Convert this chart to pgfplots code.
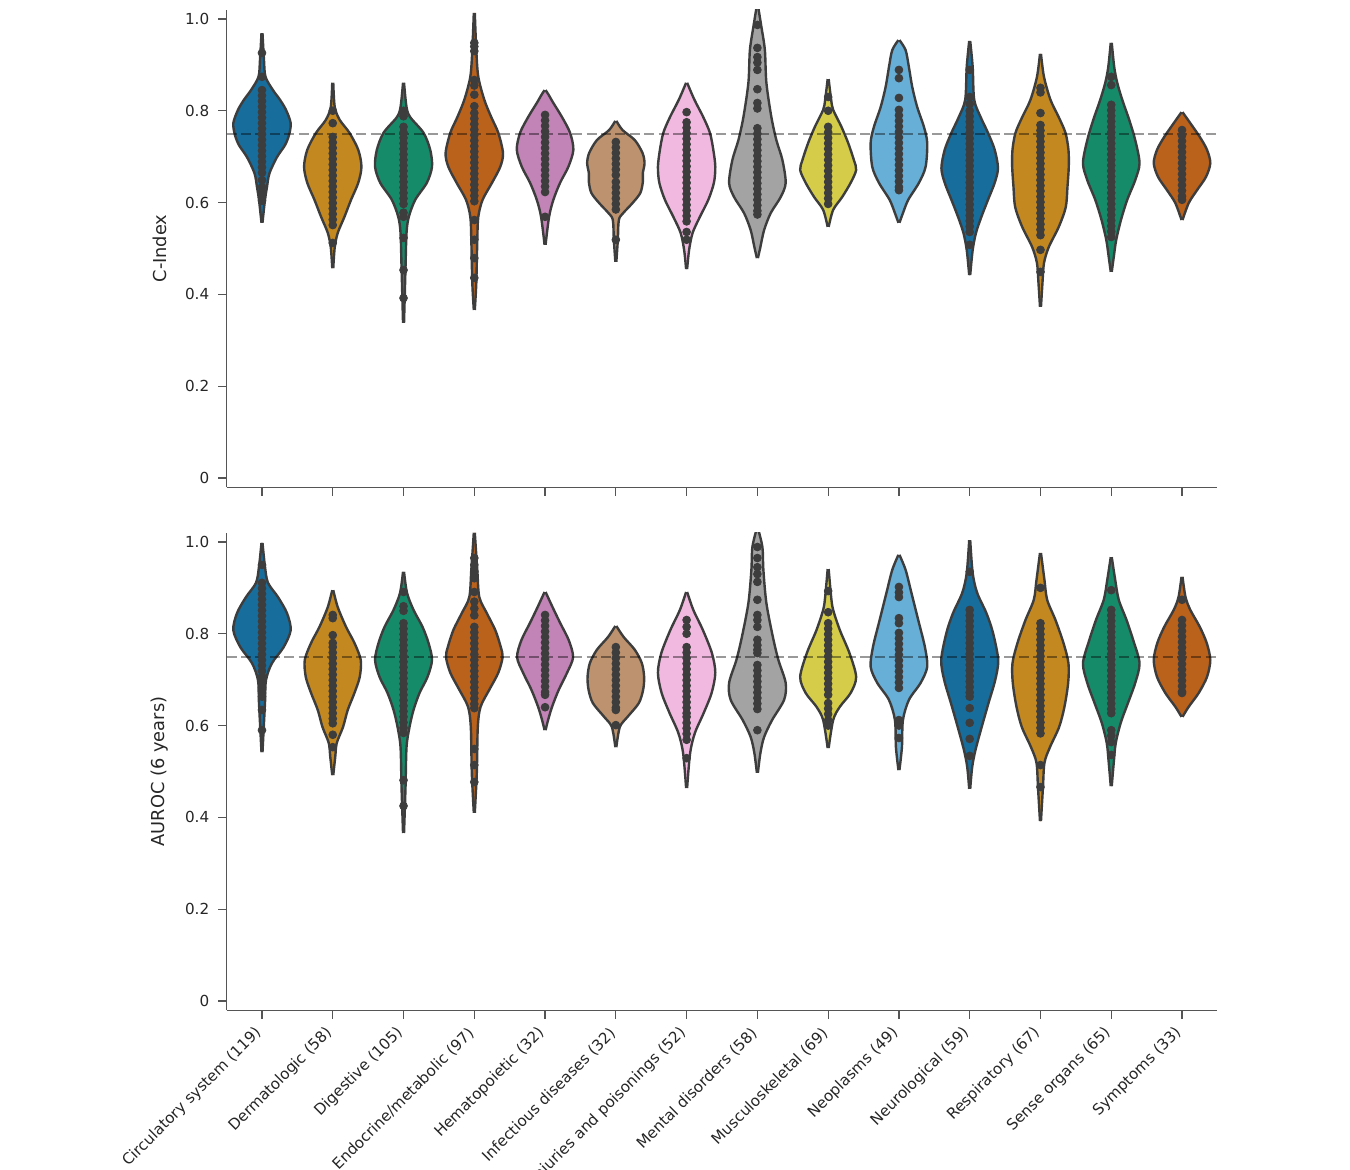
\documentclass[border=0pt]{standalone}
\usepackage{fontspec}
\setmainfont{DejaVu Sans}
\usepackage{pgfplots}
\pgfplotsset{compat=1.18}
\usepgfplotslibrary{fillbetween}

\definecolor{cA}{HTML}{176D9C}
\definecolor{cB}{HTML}{C38820}
\definecolor{cC}{HTML}{168B6A}
\definecolor{cD}{HTML}{BA611B}
\definecolor{cE}{HTML}{C283B6}
\definecolor{cF}{HTML}{BD926E}
\definecolor{cG}{HTML}{F2B9E0}
\definecolor{cH}{HTML}{A3A3A3}
\definecolor{cI}{HTML}{D5CD4A}
\definecolor{cJ}{HTML}{68AFD7}
\definecolor{vedge}{HTML}{3D3D3D}
\definecolor{axc}{HTML}{555555}
\definecolor{txt}{HTML}{262626}

% half-widths w are in pixels of the reference (one category = 70.8 px)
\newcommand\violin[4]{%
  \addplot[draw=vedge, line width=1.2pt, smooth, name path=R#3] table[row sep=\\, x expr={#1+\thisrow{w}/70.8}, y=y]{#4};
  \addplot[draw=vedge, line width=1.2pt, smooth, name path=L#3] table[row sep=\\, x expr={#1-\thisrow{w}/70.8}, y=y]{#4};
  \addplot[fill=#2, draw=none] fill between[of=R#3 and L#3, reverse=true];
}

\pgfplotsset{vio/.style={
  scale only axis, width=495.4pt, height=238.7pt,
  xmin=-0.5, xmax=13.5, ymin=-0.02, ymax=1.02,
  axis x line*=bottom, axis y line*=left,
  axis line style={draw=axc, line width=0.6pt, -},
  xtick={0,...,13}, ytick={0,0.2,0.4,0.6,0.8,1.0},
  yticklabels={0,0.2,0.4,0.6,0.8,1.0},
  tick align=outside, major tick length=4.2pt,
  tick style={draw=axc, line width=0.6pt},
  tick label style={font=\fontsize{7.6}{9}\selectfont, text=txt},
  yticklabel style={inner sep=0pt, xshift=-4.3pt},
  label style={font=\fontsize{8.9}{10.5}\selectfont, text=txt},
  ylabel style={at={(axis description cs:-0.0677,0.5)}, anchor=center},
  set layers,
}}

\begin{document}
\begin{tikzpicture}

% ---------------- top panel: C-Index ----------------
\begin{axis}[vio, at={(113.3pt,341.4pt)}, anchor=south west, ylabel={C-Index}, xticklabels={}]
\violin{0}{cA}{a0}{y w \\ 0.556 0.5 \\ 0.606 3 \\ 0.634 5 \\ 0.664 7.5 \\ 0.699 15 \\ 0.725 23 \\ 0.747 27 \\ 0.773 28.7 \\ 0.802 24 \\ 0.824 18 \\ 0.845 11 \\ 0.874 3.5 \\ 0.911 2 \\ 0.969 0.5 \\}
\violin{1}{cB}{a1}{y w \\ 0.457 0.5 \\ 0.503 2 \\ 0.534 5 \\ 0.569 11.7 \\ 0.606 18.3 \\ 0.643 25.5 \\ 0.678 28.7 \\ 0.715 25.5 \\ 0.752 16.7 \\ 0.780 7 \\ 0.808 2 \\ 0.861 0.5 \\}
\violin{2}{cC}{a2}{y w \\ 0.338 0.5 \\ 0.460 2 \\ 0.534 3 \\ 0.569 5.3 \\ 0.606 11.7 \\ 0.643 23.3 \\ 0.678 28.5 \\ 0.715 26.7 \\ 0.752 20 \\ 0.786 6.7 \\ 0.808 3 \\ 0.861 0.5 \\}
\violin{3}{cD}{a3}{y w \\ 0.366 0.5 \\ 0.425 2 \\ 0.519 3 \\ 0.569 4 \\ 0.606 8.3 \\ 0.643 17.7 \\ 0.678 26 \\ 0.708 28.7 \\ 0.752 24 \\ 0.786 17 \\ 0.824 10 \\ 0.874 4 \\ 0.932 2 \\ 1.013 0.5 \\}
\violin{4}{cE}{a4}{y w \\ 0.508 0.5 \\ 0.569 4 \\ 0.606 8.3 \\ 0.643 15 \\ 0.678 23.3 \\ 0.715 28.3 \\ 0.752 25 \\ 0.786 17 \\ 0.818 8 \\ 0.835 3.5 \\ 0.845 0.5 \\}
\violin{5}{cF}{a5}{y w \\ 0.471 0.5 \\ 0.519 2 \\ 0.562 3 \\ 0.577 7.3 \\ 0.599 16.7 \\ 0.621 24.5 \\ 0.645 27 \\ 0.664 27 \\ 0.686 28.7 \\ 0.708 26.7 \\ 0.736 19 \\ 0.758 6.7 \\ 0.778 0.5 \\}
\violin{6}{cG}{a6}{y w \\ 0.455 0.5 \\ 0.497 2.5 \\ 0.534 6 \\ 0.569 13.3 \\ 0.606 21.7 \\ 0.643 27.3 \\ 0.678 28.7 \\ 0.715 26.7 \\ 0.752 23.3 \\ 0.786 16.7 \\ 0.824 7.8 \\ 0.861 0.5 \\}
\violin{7}{cH}{a7}{y w \\ 0.479 0.5 \\ 0.503 3 \\ 0.540 6.7 \\ 0.577 13.3 \\ 0.612 23.3 \\ 0.643 28.3 \\ 0.693 25 \\ 0.736 19 \\ 0.786 14 \\ 0.861 9 \\ 0.932 7.5 \\ 0.983 4 \\ 1.03 0.5 \\}
\violin{8}{cI}{a8}{y w \\ 0.547 0.5 \\ 0.584 5 \\ 0.612 14 \\ 0.643 22.5 \\ 0.671 28 \\ 0.693 25.7 \\ 0.730 20 \\ 0.765 13.3 \\ 0.802 5 \\ 0.824 3 \\ 0.869 0.5 \\}
\violin{9}{cJ}{a9}{y w \\ 0.556 0.5 \\ 0.577 4 \\ 0.606 9.3 \\ 0.643 20 \\ 0.678 26.7 \\ 0.730 28.3 \\ 0.765 25 \\ 0.808 18.3 \\ 0.852 13.3 \\ 0.895 10 \\ 0.932 6.7 \\ 0.954 0.5 \\}
\violin{10}{cA}{a10}{y w \\ 0.442 0.5 \\ 0.497 3 \\ 0.534 6.3 \\ 0.569 11.7 \\ 0.606 18.3 \\ 0.643 25 \\ 0.675 28.3 \\ 0.715 25 \\ 0.752 18.3 \\ 0.786 11 \\ 0.824 4.5 \\ 0.895 3 \\ 0.952 0.5 \\}
\violin{11}{cB}{a11}{y w \\ 0.373 0.5 \\ 0.425 2 \\ 0.468 3.5 \\ 0.503 8.3 \\ 0.547 18.3 \\ 0.590 25.3 \\ 0.634 27 \\ 0.678 28.3 \\ 0.715 28 \\ 0.752 25 \\ 0.786 18.3 \\ 0.824 10 \\ 0.874 3.5 \\ 0.924 0.5 \\}
\violin{12}{cC}{a12}{y w \\ 0.449 0.5 \\ 0.481 2.5 \\ 0.519 5 \\ 0.562 9.7 \\ 0.606 16 \\ 0.649 24 \\ 0.686 28.3 \\ 0.736 24 \\ 0.780 18 \\ 0.824 11 \\ 0.861 6 \\ 0.895 3 \\ 0.948 0.5 \\}
\violin{13}{cD}{a13}{y w \\ 0.562 0.5 \\ 0.599 6.7 \\ 0.627 15 \\ 0.656 24 \\ 0.686 28.3 \\ 0.715 25 \\ 0.743 17.8 \\ 0.773 8.3 \\ 0.797 0.5 \\}

\addplot[only marks, mark=*, mark size=1.95pt, color=vedge] coordinates {
(0,0.926)(0,0.874)(0,0.845)(0,0.833)(0,0.821)(0,0.809)(0,0.797)(0,0.785)(0,0.773)(0,0.761)(0,0.749)(0,0.737)(0,0.725)(0,0.713)(0,0.701)(0,0.689)(0,0.677)(0,0.665)(0,0.649)(0,0.634)(0,0.621)(0,0.612)(0,0.604)
(1,0.800)(1,0.773)(1,0.743)(1,0.731)(1,0.719)(1,0.707)(1,0.695)(1,0.683)(1,0.671)(1,0.659)(1,0.647)(1,0.635)(1,0.623)(1,0.611)(1,0.599)(1,0.587)(1,0.575)(1,0.563)(1,0.551)(1,0.512)
(2,0.800)(2,0.788)(2,0.765)(2,0.753)(2,0.741)(2,0.729)(2,0.717)(2,0.705)(2,0.693)(2,0.681)(2,0.669)(2,0.657)(2,0.645)(2,0.633)(2,0.621)(2,0.609)(2,0.597)(2,0.578)(2,0.569)(2,0.523)(2,0.453)(2,0.392)
(3,0.948)(3,0.940)(3,0.930)(3,0.867)(3,0.855)(3,0.835)(3,0.810)(3,0.795)(3,0.783)(3,0.771)(3,0.759)(3,0.747)(3,0.735)(3,0.723)(3,0.711)(3,0.699)(3,0.687)(3,0.675)(3,0.663)(3,0.651)(3,0.639)(3,0.627)(3,0.615)(3,0.603)(3,0.562)(3,0.519)(3,0.479)(3,0.436)
(4,0.791)(4,0.779)(4,0.767)(4,0.755)(4,0.743)(4,0.731)(4,0.719)(4,0.707)(4,0.695)(4,0.683)(4,0.671)(4,0.659)(4,0.647)(4,0.635)(4,0.623)(4,0.569)
(5,0.732)(5,0.720)(5,0.708)(5,0.696)(5,0.684)(5,0.672)(5,0.660)(5,0.645)(5,0.633)(5,0.621)(5,0.609)(5,0.597)(5,0.585)(5,0.519)
(6,0.797)(6,0.775)(6,0.763)(6,0.751)(6,0.739)(6,0.727)(6,0.715)(6,0.703)(6,0.691)(6,0.679)(6,0.667)(6,0.655)(6,0.643)(6,0.631)(6,0.619)(6,0.607)(6,0.595)(6,0.583)(6,0.571)(6,0.559)(6,0.536)(6,0.519)
(7,0.987)(7,0.937)(7,0.917)(7,0.905)(7,0.889)(7,0.847)(7,0.817)(7,0.805)(7,0.762)(7,0.750)(7,0.738)(7,0.726)(7,0.714)(7,0.702)(7,0.690)(7,0.678)(7,0.666)(7,0.654)(7,0.642)(7,0.630)(7,0.618)(7,0.606)(7,0.594)(7,0.582)(7,0.574)
(8,0.830)(8,0.800)(8,0.765)(8,0.753)(8,0.741)(8,0.729)(8,0.717)(8,0.705)(8,0.693)(8,0.681)(8,0.669)(8,0.657)(8,0.645)(8,0.633)(8,0.621)(8,0.609)(8,0.597)
(9,0.889)(9,0.871)(9,0.828)(9,0.802)(9,0.790)(9,0.778)(9,0.766)(9,0.754)(9,0.742)(9,0.730)(9,0.718)(9,0.706)(9,0.694)(9,0.682)(9,0.670)(9,0.658)(9,0.646)(9,0.634)(9,0.627)
(10,0.889)(10,0.830)(10,0.815)(10,0.800)(10,0.788)(10,0.776)(10,0.764)(10,0.752)(10,0.740)(10,0.728)(10,0.716)(10,0.704)(10,0.692)(10,0.680)(10,0.668)(10,0.656)(10,0.644)(10,0.632)(10,0.620)(10,0.608)(10,0.596)(10,0.584)(10,0.572)(10,0.560)(10,0.548)(10,0.536)(10,0.508)
(11,0.850)(11,0.840)(11,0.795)(11,0.769)(11,0.757)(11,0.745)(11,0.733)(11,0.721)(11,0.709)(11,0.697)(11,0.685)(11,0.673)(11,0.661)(11,0.649)(11,0.637)(11,0.625)(11,0.613)(11,0.601)(11,0.589)(11,0.577)(11,0.565)(11,0.553)(11,0.541)(11,0.529)(11,0.497)(11,0.449)
(12,0.874)(12,0.856)(12,0.813)(12,0.801)(12,0.789)(12,0.777)(12,0.765)(12,0.753)(12,0.741)(12,0.729)(12,0.717)(12,0.705)(12,0.693)(12,0.681)(12,0.669)(12,0.657)(12,0.645)(12,0.633)(12,0.621)(12,0.609)(12,0.597)(12,0.585)(12,0.573)(12,0.561)(12,0.549)(12,0.537)(12,0.525)
(13,0.758)(13,0.746)(13,0.734)(13,0.722)(13,0.710)(13,0.698)(13,0.686)(13,0.674)(13,0.662)(13,0.650)(13,0.638)(13,0.626)(13,0.614)(13,0.606)
};
\addplot[black, opacity=0.4, line width=1pt, dash pattern=on 5pt off 2.2pt] coordinates {(-0.5,0.75) (13.5,0.75)};
\end{axis}

% ---------------- bottom panel: AUROC ----------------
\begin{axis}[vio, at={(113.3pt,79.9pt)}, anchor=south west, ylabel={AUROC (6 years)},
  xticklabels={Circulatory system (119),Dermatologic (58),Digestive (105),Endocrine/metabolic (97),Hematopoietic (32),Infectious diseases (32),Injuries and poisonings (52),Mental disorders (58),Musculoskeletal (69),Neoplasms (49),Neurological (59),Respiratory (67),Sense organs (65),Symptoms (33)},
  xticklabel style={xshift=1.2pt, yshift=-8.7pt, rotate=45, anchor=south east, inner sep=0pt}]
\violin{0}{cA}{b0}{y w \\ 0.542 0.5 \\ 0.649 3 \\ 0.699 4 \\ 0.736 10 \\ 0.771 21.7 \\ 0.808 28.7 \\ 0.845 25 \\ 0.880 16 \\ 0.911 6 \\ 0.946 3 \\ 0.998 0.5 \\}
\violin{1}{cB}{b1}{y w \\ 0.492 0.5 \\ 0.532 2.5 \\ 0.562 4 \\ 0.597 10.3 \\ 0.634 15 \\ 0.671 21.7 \\ 0.706 27 \\ 0.743 28 \\ 0.780 21.7 \\ 0.815 13.3 \\ 0.858 5 \\ 0.895 0.5 \\}
\violin{2}{cC}{b2}{y w \\ 0.366 0.5 \\ 0.466 2 \\ 0.553 3 \\ 0.597 6 \\ 0.634 10 \\ 0.671 16 \\ 0.706 24 \\ 0.743 28.5 \\ 0.780 25 \\ 0.815 19 \\ 0.852 10 \\ 0.889 3.5 \\ 0.935 0.5 \\}
\violin{3}{cD}{b3}{y w \\ 0.410 0.5 \\ 0.497 2.5 \\ 0.597 3.5 \\ 0.641 6.3 \\ 0.678 15 \\ 0.715 24 \\ 0.749 28.3 \\ 0.771 26.5 \\ 0.808 21 \\ 0.845 12.5 \\ 0.880 5 \\ 0.939 3 \\ 1.02 0.5 \\}
\violin{4}{cE}{b4}{y w \\ 0.590 0.5 \\ 0.612 3 \\ 0.641 7 \\ 0.678 13.7 \\ 0.715 22 \\ 0.749 28 \\ 0.786 23.7 \\ 0.824 15 \\ 0.858 7.5 \\ 0.891 0.5 \\}
\violin{5}{cF}{b5}{y w \\ 0.553 0.5 \\ 0.597 4 \\ 0.619 11.7 \\ 0.649 23 \\ 0.678 27.3 \\ 0.706 28.3 \\ 0.736 26 \\ 0.765 19 \\ 0.793 7.8 \\ 0.817 0.5 \\}
\violin{6}{cG}{b6}{y w \\ 0.464 0.5 \\ 0.540 3.5 \\ 0.584 8.3 \\ 0.627 17 \\ 0.671 25 \\ 0.715 28.7 \\ 0.758 25.3 \\ 0.808 16.3 \\ 0.852 6.7 \\ 0.891 0.5 \\}
\violin{7}{cH}{b7}{y w \\ 0.497 0.5 \\ 0.540 3 \\ 0.575 6.7 \\ 0.612 14.7 \\ 0.656 26.7 \\ 0.693 28.3 \\ 0.743 21 \\ 0.793 15.5 \\ 0.867 9 \\ 0.939 6 \\ 0.989 5 \\ 1.03 0.5 \\}
\violin{8}{cI}{b8}{y w \\ 0.551 0.5 \\ 0.612 5 \\ 0.641 11.7 \\ 0.671 22.5 \\ 0.706 28 \\ 0.758 21.3 \\ 0.808 11.7 \\ 0.852 5 \\ 0.880 3 \\ 0.941 0.5 \\}
\violin{9}{cJ}{b9}{y w \\ 0.503 0.5 \\ 0.553 3 \\ 0.612 4 \\ 0.656 10 \\ 0.693 21.7 \\ 0.728 28.3 \\ 0.771 26 \\ 0.830 19.3 \\ 0.889 12.5 \\ 0.939 6.7 \\ 0.972 0.5 \\}
\violin{10}{cA}{b10}{y w \\ 0.462 0.5 \\ 0.510 2.5 \\ 0.547 5.8 \\ 0.597 12 \\ 0.649 18.8 \\ 0.699 25.5 \\ 0.743 28.5 \\ 0.802 23.3 \\ 0.845 16.7 \\ 0.889 7.5 \\ 0.932 3 \\ 1.004 0.5 \\}
\violin{11}{cB}{b11}{y w \\ 0.392 0.5 \\ 0.466 2.5 \\ 0.519 4 \\ 0.553 9.5 \\ 0.597 18.7 \\ 0.641 24 \\ 0.693 27.7 \\ 0.736 28 \\ 0.780 23 \\ 0.830 15 \\ 0.874 6.7 \\ 0.917 4 \\ 0.976 0.5 \\}
\violin{12}{cC}{b12}{y w \\ 0.468 0.5 \\ 0.519 2.5 \\ 0.562 4.5 \\ 0.606 9.5 \\ 0.649 16.7 \\ 0.693 24 \\ 0.736 28.3 \\ 0.786 22 \\ 0.830 15.3 \\ 0.874 7.5 \\ 0.917 4 \\ 0.967 0.5 \\}
\violin{13}{cD}{b13}{y w \\ 0.619 0.5 \\ 0.641 6.7 \\ 0.671 16.7 \\ 0.706 25 \\ 0.743 28.3 \\ 0.780 24.7 \\ 0.815 17.8 \\ 0.852 8.3 \\ 0.880 3.5 \\ 0.924 0.5 \\}

\addplot[only marks, mark=*, mark size=1.95pt, color=vedge] coordinates {
(0,0.950)(0,0.911)(0,0.899)(0,0.887)(0,0.875)(0,0.863)(0,0.851)(0,0.839)(0,0.827)(0,0.815)(0,0.803)(0,0.791)(0,0.779)(0,0.767)(0,0.755)(0,0.743)(0,0.731)(0,0.719)(0,0.707)(0,0.695)(0,0.683)(0,0.671)(0,0.663)(0,0.634)(0,0.590)
(1,0.841)(1,0.834)(1,0.797)(1,0.780)(1,0.771)(1,0.759)(1,0.747)(1,0.735)(1,0.723)(1,0.711)(1,0.699)(1,0.687)(1,0.675)(1,0.663)(1,0.651)(1,0.639)(1,0.627)(1,0.615)(1,0.605)(1,0.580)(1,0.553)
(2,0.891)(2,0.860)(2,0.850)(2,0.823)(2,0.811)(2,0.799)(2,0.787)(2,0.775)(2,0.763)(2,0.751)(2,0.739)(2,0.727)(2,0.715)(2,0.703)(2,0.691)(2,0.679)(2,0.667)(2,0.655)(2,0.643)(2,0.631)(2,0.619)(2,0.607)(2,0.595)(2,0.584)(2,0.481)(2,0.425)
(3,0.965)(3,0.950)(3,0.935)(3,0.921)(3,0.891)(3,0.870)(3,0.855)(3,0.840)(3,0.815)(3,0.803)(3,0.791)(3,0.779)(3,0.767)(3,0.755)(3,0.743)(3,0.731)(3,0.719)(3,0.707)(3,0.695)(3,0.683)(3,0.671)(3,0.659)(3,0.647)(3,0.638)(3,0.549)(3,0.514)(3,0.477)
(4,0.841)(4,0.829)(4,0.817)(4,0.805)(4,0.793)(4,0.781)(4,0.769)(4,0.757)(4,0.745)(4,0.733)(4,0.721)(4,0.709)(4,0.697)(4,0.685)(4,0.673)(4,0.667)(4,0.640)
(5,0.771)(5,0.759)(5,0.747)(5,0.735)(5,0.723)(5,0.711)(5,0.699)(5,0.687)(5,0.675)(5,0.663)(5,0.651)(5,0.639)(5,0.634)(5,0.601)
(6,0.830)(6,0.815)(6,0.800)(6,0.771)(6,0.759)(6,0.747)(6,0.735)(6,0.723)(6,0.711)(6,0.699)(6,0.687)(6,0.675)(6,0.663)(6,0.651)(6,0.639)(6,0.627)(6,0.619)(6,0.606)(6,0.594)(6,0.582)(6,0.569)(6,0.529)
(7,0.989)(7,0.965)(7,0.945)(7,0.930)(7,0.913)(7,0.874)(7,0.841)(7,0.830)(7,0.815)(7,0.787)(7,0.775)(7,0.765)(7,0.758)(7,0.732)(7,0.720)(7,0.708)(7,0.696)(7,0.684)(7,0.672)(7,0.660)(7,0.648)(7,0.636)(7,0.590)
(8,0.893)(8,0.847)(8,0.823)(8,0.811)(8,0.799)(8,0.787)(8,0.775)(8,0.763)(8,0.751)(8,0.739)(8,0.727)(8,0.715)(8,0.703)(8,0.691)(8,0.679)(8,0.667)(8,0.649)(8,0.637)(8,0.625)(8,0.612)(8,0.600)
(9,0.902)(9,0.890)(9,0.880)(9,0.834)(9,0.823)(9,0.802)(9,0.790)(9,0.778)(9,0.766)(9,0.754)(9,0.742)(9,0.730)(9,0.718)(9,0.706)(9,0.694)(9,0.682)(9,0.612)(9,0.600)(9,0.573)
(10,0.935)(10,0.852)(10,0.840)(10,0.828)(10,0.816)(10,0.804)(10,0.792)(10,0.780)(10,0.768)(10,0.756)(10,0.744)(10,0.732)(10,0.720)(10,0.708)(10,0.696)(10,0.684)(10,0.672)(10,0.663)(10,0.638)(10,0.606)(10,0.571)(10,0.534)
(11,0.900)(11,0.823)(11,0.811)(11,0.799)(11,0.787)(11,0.775)(11,0.763)(11,0.751)(11,0.739)(11,0.727)(11,0.715)(11,0.703)(11,0.691)(11,0.679)(11,0.667)(11,0.655)(11,0.643)(11,0.631)(11,0.619)(11,0.607)(11,0.595)(11,0.583)(11,0.514)(11,0.466)
(12,0.895)(12,0.852)(12,0.840)(12,0.828)(12,0.816)(12,0.804)(12,0.792)(12,0.780)(12,0.768)(12,0.756)(12,0.744)(12,0.732)(12,0.720)(12,0.708)(12,0.696)(12,0.684)(12,0.672)(12,0.660)(12,0.648)(12,0.636)(12,0.627)(12,0.590)(12,0.578)(12,0.564)(12,0.536)
(13,0.874)(13,0.830)(13,0.818)(13,0.806)(13,0.794)(13,0.782)(13,0.770)(13,0.758)(13,0.746)(13,0.734)(13,0.722)(13,0.710)(13,0.698)(13,0.686)(13,0.674)(13,0.671)
};
\addplot[black, opacity=0.4, line width=1pt, dash pattern=on 5pt off 2.2pt] coordinates {(-0.5,0.75) (13.5,0.75)};
\end{axis}

\pgfresetboundingbox
\path[use as bounding box] (0,0) rectangle (675pt,585pt);
\end{tikzpicture}
\end{document}
